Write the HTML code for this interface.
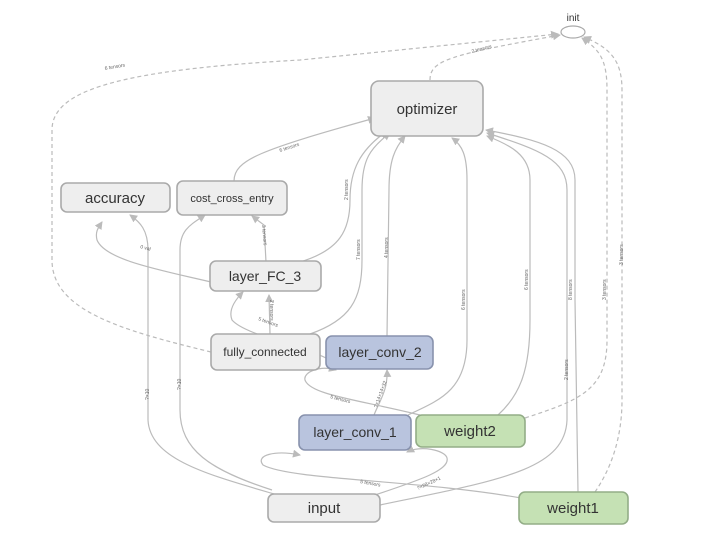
<!DOCTYPE html>
<html><head><meta charset="utf-8"><style>
html,body{margin:0;padding:0;background:#fff;}
svg{display:block;font-family:"Liberation Sans",sans-serif;}
.e{fill:none;stroke:#bbb;stroke-width:1.2;}
.d{fill:none;stroke:#bbb;stroke-width:1.2;stroke-dasharray:4,3;}
.n{fill:#eee;stroke:#aaa;stroke-width:1.6;}
.b{fill:#b9c4de;stroke:#8892ad;stroke-width:1.6;}
.g{fill:#c5e1b4;stroke:#93ad87;stroke-width:1.6;}
.t{font-size:14px;fill:#333;text-anchor:middle;}
.s{font-size:5px;fill:#666;}
</style></head><body>
<svg width="727" height="556" viewBox="0 0 727 556">
<defs><marker id="a" markerWidth="8" markerHeight="8" refX="7" refY="4" orient="auto" markerUnits="userSpaceOnUse"><path d="M0,0 L8,4 L0,8 z" fill="#bbb"/></marker></defs>
<!-- dashed to init -->
<path class="d" d="M211,352 C120,330 52,310 52,260 L52,130 C52,90 120,70 300,60 L558,34" marker-end="url(#a)"/>
<path class="d" d="M430,80 C430,60 450,55 560,35" marker-end="url(#a)"/>
<path class="d" d="M525,418 C580,400 607,390 607,340 L607,90 C607,60 600,50 582,38" marker-end="url(#a)"/>
<path class="d" d="M595,492 C610,470 622,440 622,400 L622,90 C622,60 610,48 584,37" marker-end="url(#a)"/>
<!-- to optimizer -->
<path class="e" d="M234,181 C234,160 260,150 375,118" marker-end="url(#a)"/>
<path class="e" d="M300,262 C340,250 350,230 350,200 C350,170 360,150 387,131" marker-end="url(#a)"/>
<path class="e" d="M310,334 C350,320 362,300 362,260 L362,190 C362,160 370,148 390,133" marker-end="url(#a)"/>
<path class="e" d="M387,336 L389,190 C389,160 395,148 405,136" marker-end="url(#a)"/>
<path class="e" d="M408,415 C440,400 467,390 467,340 L467,180 C467,155 462,145 452,138" marker-end="url(#a)"/>
<path class="e" d="M498,415 C520,395 530,370 530,320 L530,180 C530,155 510,145 487,136" marker-end="url(#a)"/>
<path class="e" d="M380,505 C500,480 565,470 567,420 L567,190 C567,160 540,150 487,133" marker-end="url(#a)"/>
<path class="e" d="M578,492 L575,300 L575,180 C575,150 540,140 486,130" marker-end="url(#a)"/>
<!-- layer_FC_3 outputs -->
<path class="e" d="M211,282 C160,270 105,260 97,240 C95,232 98,228 102,222" marker-end="url(#a)"/>
<path class="e" d="M266,262 L264,225 L252,216" marker-end="url(#a)"/>
<path class="e" d="M274,494 C210,475 150,460 148,420 L148,250 C148,230 140,222 130,215" marker-end="url(#a)"/>
<path class="e" d="M272,490 C210,470 180,450 180,410 L180,250 C180,230 190,225 205,215" marker-end="url(#a)"/>
<!-- into layer_FC_3 -->
<path class="e" d="M270,334 L269,295" marker-end="url(#a)"/>
<path class="e" d="M326,358 C300,345 245,335 232,320 C228,310 235,300 243,292" marker-end="url(#a)"/>
<!-- conv2 inputs -->
<path class="e" d="M420,415 C360,400 310,395 305,380 C303,372 320,365 336,370" marker-end="url(#a)"/>
<path class="e" d="M374,415 C380,400 388,390 387,370" marker-end="url(#a)"/>
<!-- conv1 inputs -->
<path class="e" d="M521,498 C420,480 290,480 263,465 C255,455 275,450 300,455" marker-end="url(#a)"/>
<path class="e" d="M375,495 C420,480 450,470 447,458 C445,450 420,445 407,452" marker-end="url(#a)"/>
<!-- labels -->
<text class="s" x="105" y="70" transform="rotate(-10 105 70)">6 tensors</text>
<text class="s" x="472" y="53" transform="rotate(-15 472 53)">2 tensors</text>
<text class="s" x="280" y="152" transform="rotate(-18 280 152)">6 tensors</text>
<text class="s" x="140" y="248" transform="rotate(15 140 248)">0 val</text>
<text class="s" x="262" y="225" transform="rotate(85 262 225)">3 tensors</text>
<text class="s" x="348" y="200" transform="rotate(-90 348 200)">2 tensors</text>
<text class="s" x="360" y="260" transform="rotate(-90 360 260)">7 tensors</text>
<text class="s" x="388" y="258" transform="rotate(-90 388 258)">4 tensors</text>
<text class="s" x="465" y="310" transform="rotate(-90 465 310)">6 tensors</text>
<text class="s" x="528" y="290" transform="rotate(-90 528 290)">6 tensors</text>
<text class="s" x="572" y="300" transform="rotate(-90 572 300)">8 tensors</text>
<text class="s" x="568" y="380" transform="rotate(-90 568 380)">2 tensors</text>
<text class="s" x="606" y="300" transform="rotate(-90 606 300)">3 tensors</text>
<text class="s" x="623" y="265" transform="rotate(-90 623 265)">3 tensors</text>
<text class="s" x="149" y="400" transform="rotate(-90 149 400)">?×10</text>
<text class="s" x="181" y="390" transform="rotate(-90 181 390)">?×10</text>
<text class="s" x="258" y="320" transform="rotate(20 258 320)">5 tensors</text>
<text class="s" x="270" y="300" transform="rotate(90 270 300)">2 tensors</text>
<text class="s" x="330" y="398" transform="rotate(15 330 398)">5 tensors</text>
<text class="s" x="377" y="408" transform="rotate(-70 377 408)">?×14×14×32</text>
<text class="s" x="360" y="483" transform="rotate(10 360 483)">5 tensors</text>
<text class="s" x="418" y="490" transform="rotate(-25 418 490)">?×28×28×1</text>
<!-- nodes -->
<ellipse cx="573" cy="32" rx="12" ry="6" fill="#fff" stroke="#aaa" stroke-width="1.2"/>
<text x="573" y="21" style="font-size:10px;fill:#333;text-anchor:middle">init</text>
<rect class="n" x="371" y="81" width="112" height="55" rx="8"/><text class="t" x="427" y="114" style="font-size:15px">optimizer</text>
<rect class="n" x="61" y="183" width="109" height="29" rx="6"/><text class="t" x="115" y="203" style="font-size:15px">accuracy</text>
<rect class="n" x="177" y="181" width="110" height="34" rx="6"/><text class="t" x="232" y="202" style="font-size:11px">cost_cross_entry</text>
<rect class="n" x="210" y="261" width="111" height="30" rx="6"/><text class="t" x="265" y="281">layer_FC_3</text>
<rect class="n" x="211" y="334" width="109" height="36" rx="6"/><text class="t" x="265" y="356" style="font-size:12px">fully_connected</text>
<rect class="b" x="326" y="336" width="107" height="33" rx="6"/><text class="t" x="380" y="357">layer_conv_2</text>
<rect class="b" x="299" y="415" width="112" height="35" rx="6"/><text class="t" x="355" y="437">layer_conv_1</text>
<rect class="g" x="416" y="415" width="109" height="32" rx="6"/><text class="t" x="470" y="436" style="font-size:15px">weight2</text>
<rect class="n" x="268" y="494" width="112" height="28" rx="6"/><text class="t" x="324" y="513" style="font-size:15px">input</text>
<rect class="g" x="519" y="492" width="109" height="32" rx="6"/><text class="t" x="573" y="513" style="font-size:15px">weight1</text>
</svg>
</body></html>
